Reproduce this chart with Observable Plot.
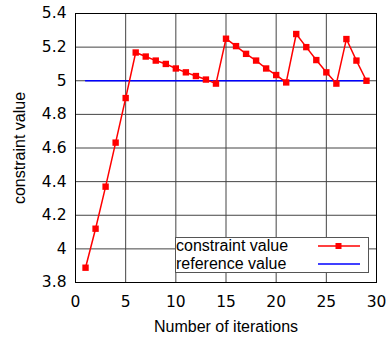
<!DOCTYPE html>
<html>
<head>
<meta charset="utf-8">
<script src="https://cdn.jsdelivr.net/npm/d3@7"></script>
<script src="https://cdn.jsdelivr.net/npm/@observablehq/plot@0.6"></script>
<style>
  html, body { margin: 0; padding: 0; background: #fff; }
  #wrap { position: relative; width: 388px; height: 338px; font-family: "Liberation Sans", Arial, sans-serif; }
  #legend { position: absolute; left: 175px; top: 237px; width: 194px; height: 36px; border: 1px solid #555; background: #fff; font-size: 16px; color: #000; box-sizing: border-box; }
  .row { position: absolute; left: 0; height: 18px; line-height: 18px; width: 100%; }
  .row span { position: absolute; left: 0px; }
  .row svg { position: absolute; left: 141px; top: 4px; }
</style>
</head>
<body>
<div id="wrap"></div>
<script>
const iterations = [1,2,3,4,5,6,7,8,9,10,11,12,13,14,15,16,17,18,19,20,21,22,23,24,25,26,27,28,29];
const constraintValues = [3.888,4.12,4.37,4.632,4.897,5.168,5.144,5.12,5.10,5.073,5.05,5.028,5.007,4.983,5.25,5.206,5.16,5.12,5.073,5.034,4.99,5.278,5.2,5.123,5.05,4.983,5.248,5.12,5.0];
const referenceValue = 5;
const referenceRange = [1, 29];
const xTicks = [0,5,10,15,20,25,30];
const yTicks = [3.8,4,4.2,4.4,4.6,4.8,5,5.2,5.4];
const seriesNames = ["constraint value", "reference value"];

const constraintData = iterations.map((x, i) => ({x, y: constraintValues[i]}));
const referenceData = referenceRange.map(x => ({x, y: referenceValue}));
const fmt = d => String(+d.toFixed(1));

const chart = Plot.plot({
  width: 388,
  height: 338,
  marginLeft: 75,
  marginRight: 12,
  marginTop: 13,
  marginBottom: 56,
  style: { fontFamily: "Liberation Sans, Arial, sans-serif", fontSize: "16px", color: "#000", background: "#fff" },
  x: { domain: [0, 30] },
  y: { domain: [3.8, 5.4] },
  marks: [
    Plot.gridX(xTicks.slice(1, -1), { stroke: "#444", strokeOpacity: 1, strokeWidth: 1 }),
    Plot.gridY(yTicks.slice(1, -1), { stroke: "#444", strokeOpacity: 1, strokeWidth: 1 }),
    Plot.axisX(xTicks, { tickSize: 0, tickPadding: 13, tickFormat: fmt, fontSize: 15.5, fontFamily: "DejaVu Sans", label: null }),
    Plot.axisX({ tickSize: 0, ticks: [], label: "Number of iterations", labelAnchor: "center", labelArrow: "none", labelOffset: 49, fontSize: 16 }),
    Plot.axisY(yTicks, { tickSize: 0, tickPadding: 9, tickFormat: fmt, fontSize: 15.5, fontFamily: "DejaVu Sans", label: null }),
    Plot.axisY({ tickSize: 0, ticks: [], label: "constraint value", labelAnchor: "center", labelArrow: "none", labelOffset: 62, fontSize: 16 }),
    Plot.frame({ stroke: "#000", strokeWidth: 1 }),
    Plot.line(referenceData, { x: "x", y: "y", stroke: "#0000ff", strokeWidth: 1.5 }),
    Plot.line(constraintData, { x: "x", y: "y", stroke: "#ff0000", strokeWidth: 1.5 }),
    Plot.dot(constraintData, { x: "x", y: "y", symbol: "square", r: 3.6, fill: "#ff0000", stroke: "none" })
  ]
});

const wrap = document.getElementById("wrap");
wrap.appendChild(chart);

const legend = document.createElement("div");
legend.id = "legend";
const colors = ["#ff0000", "#0000ff"];
seriesNames.forEach((name, i) => {
  const row = document.createElement("div");
  row.className = "row";
  row.style.top = (i === 0 ? -1 : 17) + "px";
  const sp = document.createElement("span");
  sp.textContent = name;
  row.appendChild(sp);
  const ns = "http://www.w3.org/2000/svg";
  const svg = document.createElementNS(ns, "svg");
  svg.setAttribute("width", "44");
  svg.setAttribute("height", "10");
  const ln = document.createElementNS(ns, "line");
  ln.setAttribute("x1", "1"); ln.setAttribute("x2", "43");
  ln.setAttribute("y1", "5"); ln.setAttribute("y2", "5");
  ln.setAttribute("stroke", colors[i]); ln.setAttribute("stroke-width", "1.5");
  svg.appendChild(ln);
  if (i === 0) {
    const r = document.createElementNS(ns, "rect");
    r.setAttribute("x", "18.5"); r.setAttribute("y", "2"); r.setAttribute("width", "6"); r.setAttribute("height", "6");
    r.setAttribute("fill", colors[i]);
    svg.appendChild(r);
  }
  row.appendChild(svg);
  legend.appendChild(row);
});
wrap.appendChild(legend);
</script>
</body>
</html>
